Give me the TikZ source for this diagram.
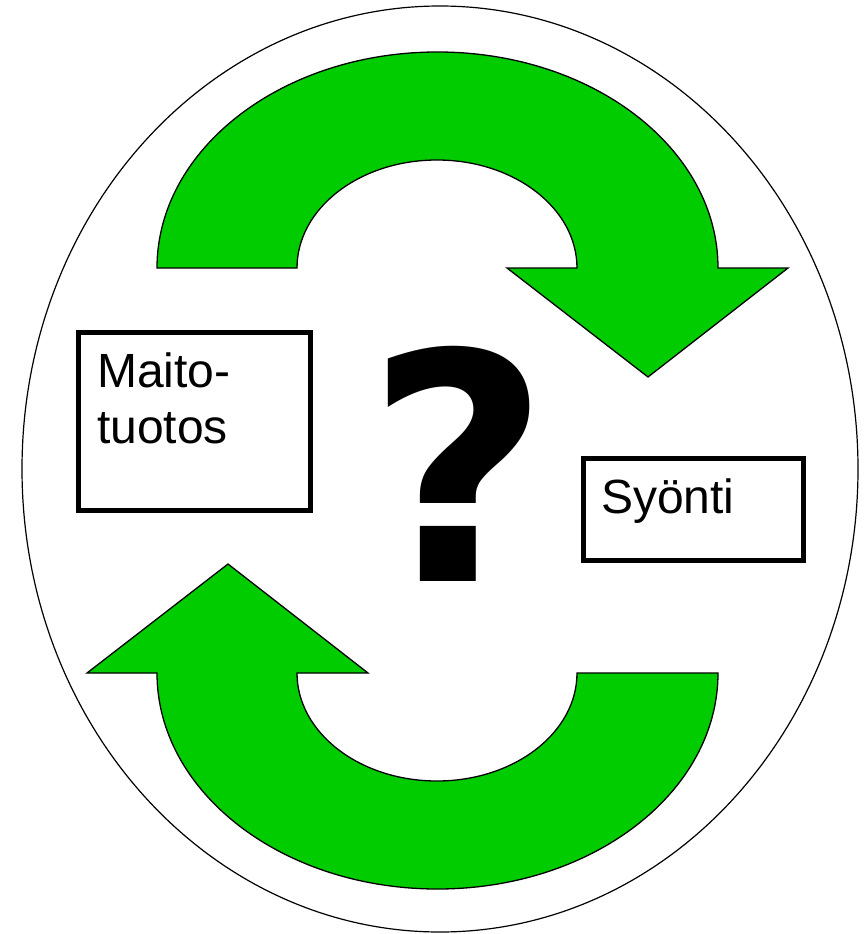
\documentclass[tikz,border=0pt]{standalone}
\usepackage{fontspec}
\setmainfont{Liberation Sans}
\newfontfamily\qfont{DejaVu Sans}
\definecolor{arrowgreen}{RGB}{0,204,0}
\begin{document}
\begin{tikzpicture}[x=1pt,y=-1pt,
  greenarrow/.style={fill=arrowgreen, draw=black, line width=1.3pt, line join=miter},
  labelbox/.style={draw=black, line width=5pt, inner sep=0pt, anchor=north west},
  labeltext/.style={inner sep=0pt, font=\fontsize{48}{56}\selectfont, align=left}]
\useasboundingbox (0,0) rectangle (865,934);
\fill[white] (0,0) rectangle (865,934);
% outer ellipse
\draw[line width=1.2pt] (440,469) ellipse [x radius=418, y radius=463];
% top arrow
\path[greenarrow] (157,268) arc[start angle=180, end angle=360, x radius=280.5, y radius=216]
  -- (788,268) -- (648,377) -- (507,268) -- (577,268)
  arc[start angle=0, end angle=-180, x radius=140, y radius=108] -- cycle;
% bottom arrow
\path[greenarrow] (718,673) arc[start angle=0, end angle=180, x radius=280.5, y radius=216]
  -- (87,673) -- (228,564) -- (368,673) -- (297,673)
  arc[start angle=180, end angle=0, x radius=140, y radius=108] -- cycle;
% boxes
\node[labelbox, minimum width=232pt, minimum height=178pt] (maito) at (76,330) {};
\node[labeltext, anchor=base west] (maitotxt) at (97,387) {Maito-};
\node[labeltext, anchor=base west] (tuotostxt) at (97,443) {tuotos};
\node[labelbox, minimum width=220pt, minimum height=102pt] (syonti) at (580.5,455.5) {};
\node[labeltext, anchor=base west] (syontitxt) at (601,513) {Syönti};
% question mark
\node[inner sep=0pt, anchor=base, font=\qfont\bfseries\fontsize{317}{317}\selectfont] (qmark) at (458,581) {?};
\end{tikzpicture}
\end{document}
